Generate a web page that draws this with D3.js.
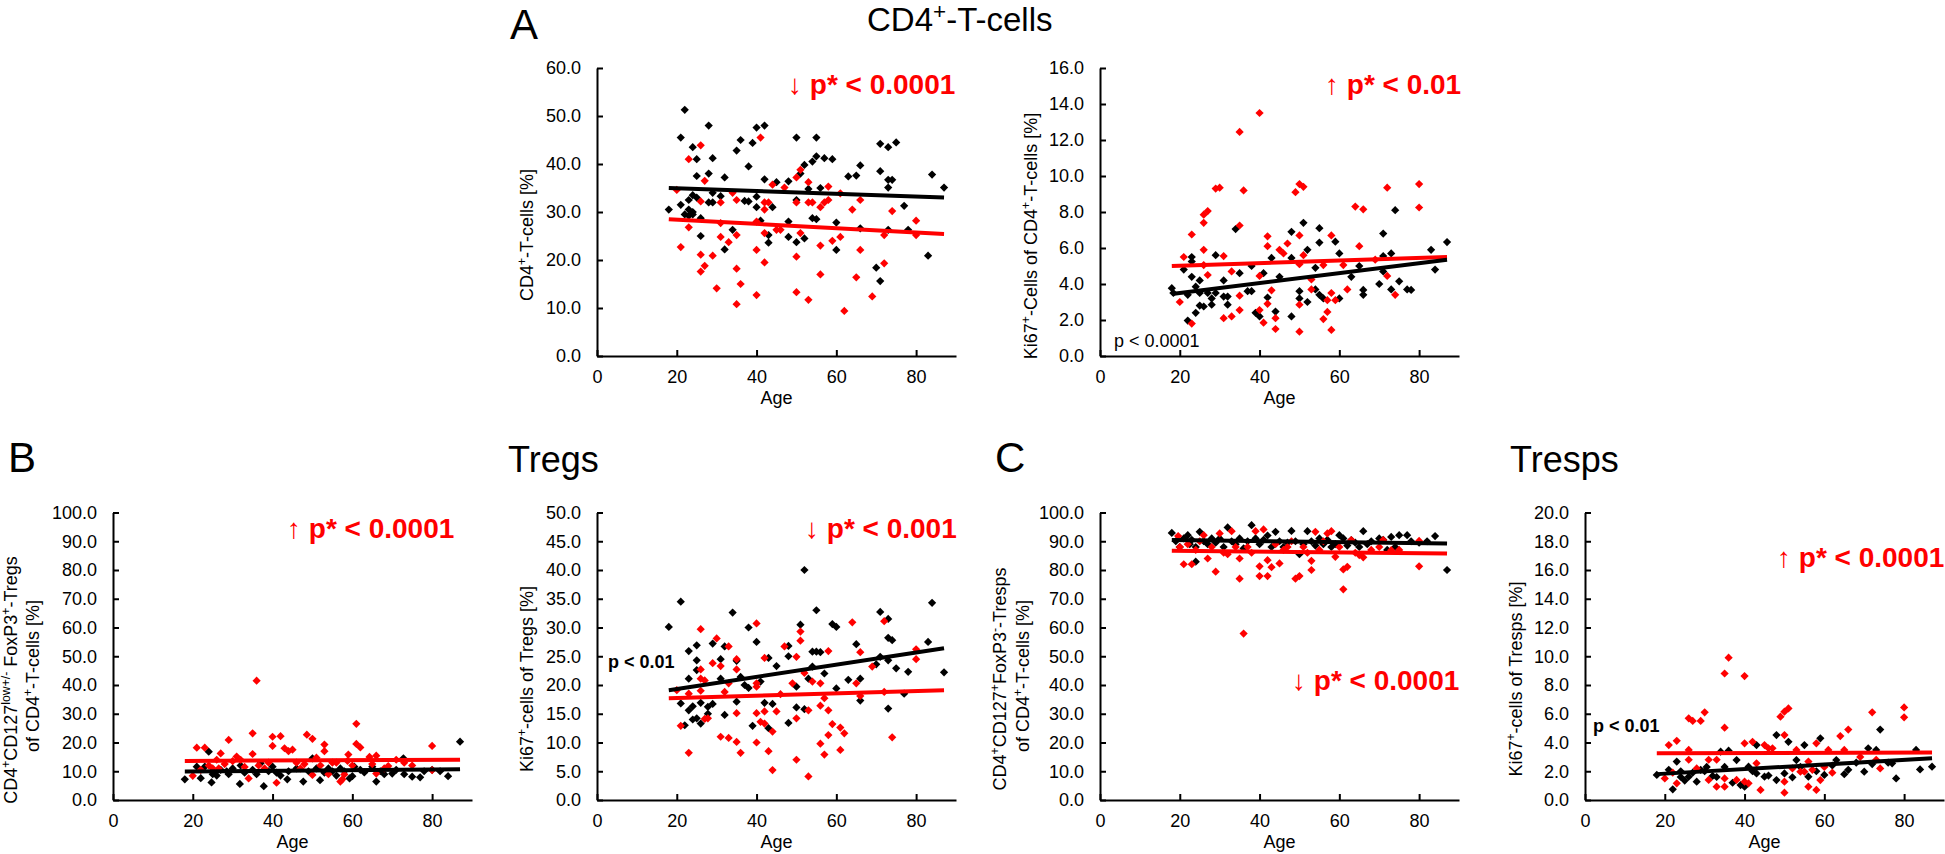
<!DOCTYPE html>
<html><head><meta charset="utf-8">
<script src="https://cdn.jsdelivr.net/npm/d3@7"></script>
<style>
body{margin:0;background:#fff}
svg{display:block}
text{font-family:"Liberation Sans",Arial,Helvetica,sans-serif}
</style>
</head><body>
<svg id="c" width="1945" height="854"></svg>
<script>
// ---------- data ----------
const xTicks = [0, 20, 40, 60, 80];
const fitAges = [18, 87];

const ticksA1 = [0, 10, 20, 30, 40, 50, 60];
const ticksA2 = [0, 2, 4, 6, 8, 10, 12, 14, 16];
const ticksB1 = [0, 10, 20, 30, 40, 50, 60, 70, 80, 90, 100];
const ticksB2 = [0, 5, 10, 15, 20, 25, 30, 35, 40, 45, 50];
const ticksC1 = [0, 10, 20, 30, 40, 50, 60, 70, 80, 90, 100];
const ticksC2 = [0, 2, 4, 6, 8, 10, 12, 14, 16, 18, 20];

const a1Black = [[18,30.5],[21,45.5],[22,51.3],[21,31.5],[23,32.5],[24,43.5],[25,41],[25,37.5],[23,30.5],[24,30],[24,33.5],[25,33],[22,29.5],[23,29.2],[24,29.5],[26,25],[26,28.7],[28,48],[28,38],[29,41.2],[28,32],[29,32],[29,34],[32,37.2],[31,33.3],[32,22.2],[34,26.3],[35,42.8],[36,45],[37,32.3],[38,32.2],[38,39.5],[39,44.4],[40,47.6],[42,48],[40,33.2],[40,31],[41,28.2],[42,36.8],[43,23.6],[43,25.2],[44,31],[45,36.2],[48,36.4],[48,28],[48,24.8],[50,45.5],[50,32.5],[50,23.7],[51,38],[52,39.8],[52,24.5],[53,34.8],[54,40.5],[55,41.6],[55,45.5],[54,28.7],[55,28.5],[56,35],[57,41.2],[59,41],[60,27.8],[60,22.1],[63,37.4],[65,37.6],[66,39.7],[66,26.6],[70,18.4],[71,15.6],[71,44.2],[71,38.5],[73,43.5],[73,36.7],[73,35.1],[74,36.7],[75,44.5],[73,26.3],[77,31.3],[78,26.3],[83,20.9],[84,37.8],[87,35.1]];
const a1Red = [[20,34.6],[21,22.7],[23,41],[23,26.8],[26,43.9],[26,32.2],[26,21.1],[26,17.6],[27,36.5],[27,18.8],[29,20.9],[30,14.1],[31,32],[31,27.7],[31,24.8],[33,23.7],[34,34],[35,32.5],[35,25.2],[35,18.2],[35,10.8],[36,15],[41,45.5],[40,28],[40,22.1],[40,12.7],[42,32],[42,30.5],[42,25.6],[42,19.5],[43,32],[44,35.7],[45,26.3],[46,26.3],[47,35.1],[50,37.2],[51,38.8],[50,32],[50,20.7],[50,13.3],[51,25.6],[53,36.2],[53,32],[54,32],[53,11.7],[56,31],[56,23],[56,17],[57,32],[58,32.5],[58,35.3],[59,24],[61,33.9],[61,24.8],[62,9.4],[64,30.5],[65,16.4],[66,32.5],[66,22.1],[69,12.4],[72,25.2],[72,19.3],[74,30.2],[80,28.2],[80,25.2]];
const a1FitBlack = [35.0, 33.0];
const a1FitRed = [28.5, 25.4];

const a2Black = [[18,3.77],[18.4,3.5],[21,4.8],[23,5.5],[23,5.25],[22,1.97],[22,3.4],[23,4.4],[24,2.4],[24,3.85],[25,4.2],[25,3.5],[25,2.8],[26,2.75],[27,3.5],[28,2.85],[28,3.2],[29,5.6],[29,3.5],[31,4.2],[31,3.3],[32,2.85],[32,3.3],[34,7.05],[35,4.6],[37,3.6],[38,3.6],[38,5.0],[39,2.4],[40,2.2],[41,4.6],[42,3.25],[43,5.45],[44,2.47],[45,4.4],[48,2.2],[48,6.9],[48,5.45],[50,3.6],[50,3.2],[51,7.4],[52,5.9],[52,3.0],[54,3.7],[54,4.9],[55,3.4],[55,6.3],[55,7.1],[56,3.2],[59,6.35],[60,3.2],[60,5.7],[63,4.4],[65,5.0],[66,3.67],[66,3.4],[70,4.0],[71,6.8],[71,5.55],[71,4.7],[73,5.7],[73,3.7],[74,8.1],[75,4.15],[77,3.7],[78,3.67],[83,5.9],[84,4.8],[87,6.33]];
const a2Red = [[20,3.0],[21,5.5],[23,6.75],[23,1.8],[26,7.4],[26,7.85],[26,5.9],[27,8.05],[27,4.5],[26,5.05],[29,9.3],[30,9.35],[31,5.55],[31,2.1],[33,2.2],[33,4.7],[35,12.45],[35,7.25],[35,3.35],[35,2.55],[36,9.2],[40,13.5],[40,4.45],[40,2.55],[41,1.85],[42,6.65],[42,6.1],[42,2.9],[43,3.65],[44,1.5],[44,2.1],[45,5.9],[46,5.7],[47,6.25],[49,9.1],[50,9.55],[51,9.4],[50,6.7],[50,5.1],[50,2.85],[50,1.35],[51,5.6],[53,4.25],[53,3.7],[56,5.05],[56,2.05],[57,2.45],[57,3.1],[58,3.5],[58,1.45],[58,6.7],[59,3.1],[61,5.05],[62,3.7],[64,8.3],[65,6.1],[66,8.15],[69,5.35],[72,4.45],[72,9.35],[74,3.4],[80,9.55],[80,8.25]];
const a2FitBlack = [3.45, 5.35];
const a2FitRed = [5.0, 5.5];

const b1Black = [[18,7.2],[21,11.6],[22,7.6],[23,11.6],[24,16.8],[24.7,6.1],[25,9],[26,8.5],[27,10.5],[28.5,10],[29,9],[30,11],[31.8,5.6],[32,12],[33,9.5],[35,10.5],[36,9],[37,12.8],[37.8,4.8],[39,10],[40,11.6],[41,9.5],[42,8.5],[43.7,7.2],[44,10],[46,11],[47.7,6.4],[49,10],[50,14.5],[51,11],[51.9,6.9],[53,9.5],[54,11],[55,10],[56,8.5],[57,11],[58,10],[59.3,7.5],[60,8.3],[60.5,11.6],[62,10.5],[63,9.6],[65,11.6],[66,6.4],[67,10],[68,9],[70,9.2],[71,10.5],[72.8,14.5],[73,9],[75,8.1],[77,7.9],[78,10],[80,10.5],[82,10],[84,8.3],[87,20.3]];
const b1Red = [[20,8.4],[21,18.2],[22,10.5],[23,18.2],[24,12],[25,11],[26,14],[26.5,11],[27,16.2],[28,12.5],[29,20.9],[30,13.5],[31,15.1],[32,14],[33,11.5],[34,7.5],[35,23.2],[35,16],[36,41.5],[36.5,12],[38,11],[39,13],[40,22],[40,18.8],[41,6],[42,22.2],[43,18],[44,17],[45,17.5],[46,13],[47,11],[48,12.5],[48.6,22.7],[50,21.3],[50,8.7],[51,14.7],[52,12],[53,19.3],[53,17],[54,9],[55,13],[56,13],[57,6.4],[57.5,7.2],[58,8.9],[58.8,13.6],[59,15.8],[60,12],[61,26.5],[61,19.5],[62,18.3],[64.3,15],[65,12.5],[66,15.4],[66,9.2],[68,11],[69,11.8],[71,14],[73,13],[75,12],[80,18.8],[80,10.4]];
const b1FitBlack = [9.9, 10.7];
const b1FitRed = [13.6, 14.0];

const b2Black = [[18,30.1],[21,34.5],[21,16.8],[22,13],[23,21.1],[23,25.9],[23,15.6],[24,14],[24,16.3],[25,24.3],[25,22.6],[25,26.9],[25,14.2],[26,13.3],[26,16.9],[27.8,15],[27.8,16.2],[29,27.2],[29,16.7],[31,24.5],[31,21.1],[32,14.8],[32,26.7],[34,32.6],[35,17.1],[35,24.2],[36,21.4],[37,20],[38,19.5],[38,30],[39,12.9],[40,27.5],[41,20.6],[42,16.9],[43,24.7],[43,12.5],[44,16.7],[45,23.3],[48,26.8],[48,25],[48,13.4],[50,19.7],[50,16.1],[51,30.5],[52,40],[52,15.8],[53,21.1],[54,25.8],[54,23.2],[55,33],[55,25.8],[56,25.7],[57,22],[59,30.6],[60,30.1],[60,19.4],[63,20.9],[65,27.1],[66,21.1],[66,17.3],[71,32.7],[71,24.9],[70,23.6],[73,31.5],[73,28.2],[73,24.3],[73,15.9],[74,27.8],[75,22.9],[77,18.5],[78,22.3],[83,27.5],[84,34.3],[87,22.2]];
const b2Red = [[20,19.1],[21,12.9],[23,18.5],[23,8.2],[26,29.7],[26,22.7],[26,21.1],[26,19],[27,20.8],[27,14.1],[27.8,14.2],[29,23.8],[30,28.1],[31,23.3],[31,11],[32,18.8],[33,26.7],[33,20.3],[33,10.8],[35,24.5],[35,22.7],[35,15.1],[35,10.1],[36,8.2],[40,30.7],[40,20.3],[40,19.7],[40,15.1],[40,10],[41,13.6],[42,24.7],[42,15.4],[42,13.3],[43,8.5],[44,11.9],[44,5.2],[45,15.4],[46,18.4],[47,26.7],[49,20.3],[50,24.9],[50,14.2],[50,7],[51,29.3],[51,27.7],[52,22.1],[53,15.6],[53,4.1],[54,20.6],[56,20.3],[56,16.4],[56,9.8],[57,17.7],[57,7.9],[58,25.9],[58,15.6],[58,11.3],[59,13.2],[61,12.6],[61,8.7],[62,11.6],[64,30.9],[65,20.3],[66,25.7],[66,18.1],[69,23.2],[72,31.1],[72,18.8],[74,10.9],[80,26.2],[80,24.5]];
const b2FitBlack = [19.1, 26.4];
const b2FitRed = [17.7, 19.1];

const c1Black = [[18,92.9],[19,90],[20,88],[21,91],[22,92.1],[22.5,89],[23,90.5],[24,82.9],[24,88],[25,93.3],[26,90],[27,89],[28,91],[29,89.5],[30,91],[31,88],[32,94.8],[33,90],[34,89],[35,91],[36,87.5],[37,90],[38,95.6],[39,91],[40,89],[41,90.5],[42,92],[43,88],[44,93.3],[45,90],[46,88],[47,89.5],[48,93.6],[49,90],[50,85.5],[51,89],[52,93.5],[53,90],[54,88.5],[55,91],[56,89],[57,90.5],[58,88],[59,89],[60,92.1],[61,91],[62,88.5],[63,90.4],[64,89.5],[65,88],[66,93.5],[67,89],[68,90],[70,91],[71,90.5],[72,87],[73,91.5],[74,88],[75,92.1],[77,92.1],[78,90],[80,89.5],[82,90],[84,91.8],[87,80]];
const c1Red = [[19.6,91.8],[20,88],[21,82],[22,89],[23,82],[24,87],[25,90],[26,92.1],[27,84],[28,88],[29,79.4],[30,92.7],[31,86],[32,85.5],[33,93.5],[34,88],[35,77],[35,84],[36,57.9],[37,88],[38,86],[39,93.5],[40,81.3],[40,77.9],[41,94.1],[42,77.9],[42,83.4],[43,81],[44,89],[45,82.3],[46,87],[47,88],[48,90],[49,77],[50,77.9],[51,88],[52,86],[53,83.2],[53,80],[54,93.3],[55,87],[56,90],[57,92.7],[58,93.5],[59,84.6],[60,88],[61,80.2],[61,73.3],[62,81.1],[63,90.4],[64,86],[65,85.2],[66,84.4],[68,87],[70,88],[71,90.4],[73,86.9],[75,87],[80,81.3],[80,90.1]];
const c1FitBlack = [90.4, 89.2];
const c1FitRed = [86.7, 85.7];

const c2Black = [[18,1.74],[21,2.1],[22,0.74],[23,2.67],[24,2.0],[24,1.6],[25,1.35],[26,1.62],[27,1.9],[28,1.27],[29,2.1],[30,2.0],[30.5,2.3],[32,1.67],[33,1.6],[34,3.36],[35,2.3],[36,3.43],[37,1.2],[38,2.78],[39,1.04],[40,0.93],[41,2.32],[42,2.0],[43,3.82],[43,1.85],[45,1.62],[46,1.7],[48,4.52],[48,1.39],[50,1.85],[51,4.05],[52,1.58],[53,2.78],[54,2.3],[55,3.82],[56,1.62],[58,2.0],[59,4.29],[60,1.74],[62,2.4],[63,2.78],[65,1.8],[66,2.1],[68,2.6],[70,1.97],[71,3.6],[72,2.5],[73,3.48],[74,4.9],[76,2.6],[77,2.55],[78,1.5],[83,3.48],[84,2.13],[87,2.32]];
const c2Red = [[20,1.5],[21,3.82],[22,1.9],[23,4.12],[23,1.16],[26,5.68],[27,5.5],[26,3.48],[26,2.8],[28,2.2],[29,5.5],[30,6.1],[31,2.8],[31,1.4],[33,2.8],[33,0.93],[35,8.8],[36,9.9],[35,5.03],[35,1.5],[35,0.93],[38,1.4],[40,8.62],[40,3.94],[40,1.27],[41,1.16],[42,4.05],[43,2.55],[44,0.7],[45,3.82],[46,3.6],[47,3.6],[49,5.8],[50,6.14],[51,6.37],[50,4.52],[50,1.27],[50,0.51],[52,2.2],[53,3.48],[54,1.97],[55,1.97],[56,2.67],[56,0.93],[57,2.1],[58,3.94],[58,0.7],[59,1.39],[60,2.3],[61,3.48],[62,1.9],[64,4.45],[65,3.48],[66,4.9],[69,3.0],[72,6.1],[73,2.8],[74,2.2],[80,6.44],[80,5.75]];
const c2FitBlack = [1.8, 2.9];
const c2FitRed = [3.25, 3.3];

// ---------- drawing ----------
const svg = d3.select("#c");
const FONT = '"Liberation Sans",Arial,Helvetica,sans-serif';
const RED = "#ff0000";

function richText(sel, parts) {
  parts.forEach(p => {
    const t = sel.append("tspan").text(p[0]);
    if (p[1] === "sup") t.attr("baseline-shift", "super").attr("font-size", "68%");
  });
}

function panel(o) {
  const W = 359;
  const x = d3.scaleLinear().domain([0, 90]).range([o.left, o.left + W]);
  const y = d3.scaleLinear().domain([0, o.ymax]).range([o.bottom, o.top]);
  const g = svg.append("g");

  const sym = d3.symbol(d3.symbolSquare, 34);
  const drawPts = (data, color) => g.append("g").selectAll("path").data(data).join("path")
    .attr("d", sym)
    .attr("fill", color)
    .attr("transform", d => `translate(${x(d[0])},${y(d[1])}) rotate(45)`);
  drawPts(o.black, "#000");
  drawPts(o.red, RED);

  const line = d3.line().x((d, i) => x(fitAges[i])).y(d => y(d));
  g.append("path").attr("d", line(o.fitRed)).attr("stroke", RED).attr("stroke-width", 4).attr("fill", "none");
  g.append("path").attr("d", line(o.fitBlack)).attr("stroke", "#000").attr("stroke-width", 4).attr("fill", "none");

  const xa = g.append("g").attr("transform", `translate(0,${o.bottom})`)
    .call(d3.axisBottom(x).tickValues(xTicks).tickSizeInner(-6).tickSizeOuter(0).tickPadding(14).tickFormat(d3.format("d")));
  const ya = g.append("g").attr("transform", `translate(${o.left},0)`)
    .call(d3.axisLeft(y).tickValues(o.ticks).tickSizeInner(-6).tickSizeOuter(0).tickPadding(16).tickFormat(d3.format(".1f")));
  [xa, ya].forEach(a => {
    a.attr("font-family", FONT).attr("font-size", 18);
    a.selectAll("path.domain").attr("stroke", "#000").attr("stroke-width", 2);
    a.selectAll(".tick line").attr("stroke", "#000").attr("stroke-width", 2);
    a.selectAll(".tick text").attr("fill", "#000");
  });

  g.append("text").attr("x", x(45)).attr("y", o.bottom + 48).attr("text-anchor", "middle")
    .attr("font-size", 18).text("Age");

  o.ylabel.forEach(l => {
    const t = g.append("text").attr("text-anchor", "middle").attr("font-size", 18)
      .attr("transform", `translate(${l.x},${l.y}) rotate(-90)`);
    richText(t, l.parts);
  });

  g.append("text").attr("x", o.ann.x).attr("y", o.ann.y).attr("fill", RED)
    .attr("font-weight", "bold").attr("font-size", 28).text(o.ann.text);
  if (o.pb) {
    g.append("text").attr("x", o.pb.x).attr("y", o.pb.y).attr("fill", "#000")
      .attr("font-weight", o.pb.bold ? "bold" : "normal").attr("font-size", 18).text(o.pb.text);
  }
}

panel({left: 597, top: 68, bottom: 356, ymax: 60, ticks: ticksA1, black: a1Black, red: a1Red,
  fitBlack: a1FitBlack, fitRed: a1FitRed,
  ylabel: [{x: 533, y: 235, parts: [["CD4"], ["+", "sup"], ["-T-cells [%]"]]}],
  ann: {x: 788, y: 94, text: "\u2193 p* < 0.0001"}});

panel({left: 1100, top: 68, bottom: 356, ymax: 16, ticks: ticksA2, black: a2Black, red: a2Red,
  fitBlack: a2FitBlack, fitRed: a2FitRed,
  ylabel: [{x: 1037, y: 236, parts: [["Ki67"], ["+", "sup"], ["-Cells of CD4"], ["+", "sup"], ["-T-cells [%]"]]}],
  ann: {x: 1325, y: 94, text: "\u2191 p* < 0.01"},
  pb: {x: 1114, y: 347, text: "p < 0.0001", bold: false}});

panel({left: 113, top: 512.5, bottom: 800, ymax: 100, ticks: ticksB1, black: b1Black, red: b1Red,
  fitBlack: b1FitBlack, fitRed: b1FitRed,
  ylabel: [{x: 17, y: 680, parts: [["CD4"], ["+", "sup"], ["CD127"], ["low+/-", "sup"], [" FoxP3"], ["+", "sup"], ["-Tregs"]]},
           {x: 39, y: 676, parts: [["of CD4"], ["+", "sup"], ["-T-cells [%]"]]}],
  ann: {x: 287, y: 538, text: "\u2191 p* < 0.0001"}});

panel({left: 597, top: 512.5, bottom: 800, ymax: 50, ticks: ticksB2, black: b2Black, red: b2Red,
  fitBlack: b2FitBlack, fitRed: b2FitRed,
  ylabel: [{x: 533, y: 679, parts: [["Ki67"], ["+", "sup"], ["-cells of Tregs [%]"]]}],
  ann: {x: 805, y: 538, text: "\u2193 p* < 0.001"},
  pb: {x: 608, y: 668, text: "p < 0.01", bold: true}});

panel({left: 1100, top: 512.5, bottom: 800, ymax: 100, ticks: ticksC1, black: c1Black, red: c1Red,
  fitBlack: c1FitBlack, fitRed: c1FitRed,
  ylabel: [{x: 1006, y: 679, parts: [["CD4"], ["+", "sup"], ["CD127"], ["+", "sup"], ["FoxP3"], ["-", "sup"], ["-Tresps"]]},
           {x: 1029, y: 676, parts: [["of CD4"], ["+", "sup"], ["-T-cells [%]"]]}],
  ann: {x: 1292, y: 690, text: "\u2193 p* < 0.0001"}});

panel({left: 1585, top: 512.5, bottom: 800, ymax: 20, ticks: ticksC2, black: c2Black, red: c2Red,
  fitBlack: c2FitBlack, fitRed: c2FitRed,
  ylabel: [{x: 1522, y: 679, parts: [["Ki67"], ["+", "sup"], ["-cells of Tresps [%]"]]}],
  ann: {x: 1777, y: 567, text: "\u2191 p* < 0.0001"},
  pb: {x: 1593, y: 732, text: "p < 0.01", bold: true}});

const big = (x, y, s, t) => svg.append("text").attr("x", x).attr("y", y).attr("font-size", s).attr("fill", "#000");
big(510, 39, 42).text("A");
big(8, 472, 42).text("B");
big(995, 472, 42).text("C");
richText(big(867, 31, 33), [["CD4"], ["+", "sup"], ["-T-cells"]]);
big(508, 472, 36).text("Tregs");
big(1510, 472, 36).text("Tresps");
</script>
</body></html>
